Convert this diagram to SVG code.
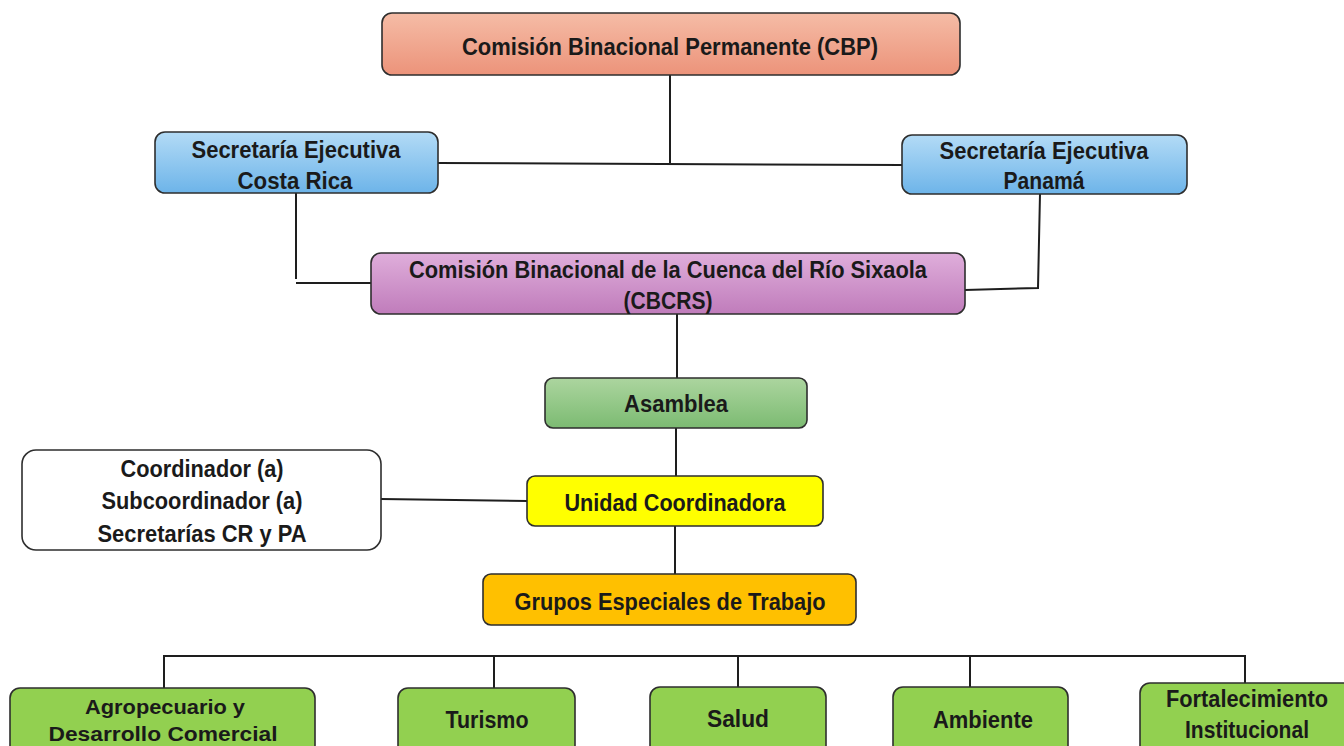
<svg xmlns="http://www.w3.org/2000/svg" width="1344" height="746" viewBox="0 0 1344 746">
<defs>
<linearGradient id="gRed" x1="0" y1="0" x2="0" y2="1"><stop offset="0" stop-color="#f5bca6"/><stop offset="1" stop-color="#ec937a"/></linearGradient>
<linearGradient id="gBlue" x1="0" y1="0" x2="0" y2="1"><stop offset="0" stop-color="#b3dbf6"/><stop offset="1" stop-color="#6db4e9"/></linearGradient>
<linearGradient id="gPurple" x1="0" y1="0" x2="0" y2="1"><stop offset="0" stop-color="#dfaedb"/><stop offset="1" stop-color="#c07cbb"/></linearGradient>
<linearGradient id="gGreen" x1="0" y1="0" x2="0" y2="1"><stop offset="0" stop-color="#acd59f"/><stop offset="1" stop-color="#7cbb72"/></linearGradient>
<style>
.box{stroke:#2e2e2e;stroke-width:1.6}
.t{font-family:"Liberation Sans",Arial,sans-serif;font-weight:bold;font-size:23px;fill:#1a1a1a;text-anchor:middle}
.c{fill:none;stroke:#1e1e1e;stroke-width:2}
</style>
</defs>
<g id="connectors">
<path class="c" d="M670 75V163"/>
<path class="c" d="M438 163L902 165"/>
<path class="c" d="M296 193V279"/>
<path class="c" d="M296 283H371"/>
<path class="c" d="M1040 194L1038 288L965 290"/>
<path class="c" d="M677 314V378"/>
<path class="c" d="M676 428V476"/>
<path class="c" d="M381 499L527 501"/>
<path class="c" d="M675 526V574"/>
<path class="c" d="M164 688V656H1245V683"/>
<path class="c" d="M494 656V688"/>
<path class="c" d="M738 656V687"/>
<path class="c" d="M970 656V687"/>
</g>
<g id="cbp"><rect class="box" x="382" y="13" width="578" height="62" rx="10" fill="url(#gRed)"/><text class="t" x="670" y="55" textLength="416" lengthAdjust="spacingAndGlyphs">Comisión Binacional Permanente (CBP)</text></g>
<g id="se-cr"><rect class="box" x="155" y="132" width="283" height="61" rx="10" fill="url(#gBlue)"/><text class="t" x="296" y="158" textLength="209" lengthAdjust="spacingAndGlyphs">Secretaría Ejecutiva</text><text class="t" x="295" y="189" textLength="115" lengthAdjust="spacingAndGlyphs">Costa Rica</text></g>
<g id="se-pa"><rect class="box" x="902" y="135" width="285" height="59" rx="10" fill="url(#gBlue)"/><text class="t" x="1044" y="159" textLength="209" lengthAdjust="spacingAndGlyphs">Secretaría Ejecutiva</text><text class="t" x="1044" y="189" textLength="81" lengthAdjust="spacingAndGlyphs">Panamá</text></g>
<g id="cbcrs"><rect class="box" x="371" y="253" width="594" height="61" rx="10" fill="url(#gPurple)"/><text class="t" x="668" y="278" textLength="518" lengthAdjust="spacingAndGlyphs">Comisión Binacional de la Cuenca del Río Sixaola</text><text class="t" x="668" y="309" textLength="89" lengthAdjust="spacingAndGlyphs">(CBCRS)</text></g>
<g id="asamblea"><rect class="box" x="545" y="378" width="262" height="50" rx="8" fill="url(#gGreen)"/><text class="t" x="676" y="412" textLength="104" lengthAdjust="spacingAndGlyphs">Asamblea</text></g>
<g id="unidad"><rect class="box" x="527" y="476" width="296" height="50" rx="8" fill="#ffff00"/><text class="t" x="675" y="511" textLength="221" lengthAdjust="spacingAndGlyphs">Unidad Coordinadora</text></g>
<g id="coord"><rect class="box" x="22" y="450" width="359" height="100" rx="14" fill="#ffffff"/><text class="t" x="202" y="477" textLength="163" lengthAdjust="spacingAndGlyphs">Coordinador (a)</text><text class="t" x="202" y="509" textLength="201" lengthAdjust="spacingAndGlyphs">Subcoordinador (a)</text><text class="t" x="202" y="542" textLength="209" lengthAdjust="spacingAndGlyphs">Secretarías CR y PA</text></g>
<g id="grupos"><rect class="box" x="483" y="574" width="373" height="51" rx="8" fill="#ffc000"/><text class="t" x="670" y="610" textLength="311" lengthAdjust="spacingAndGlyphs">Grupos Especiales de Trabajo</text></g>
<g id="agro"><rect class="box" x="10" y="688" width="305" height="70" rx="10" fill="#92d050"/><text class="t" x="165" y="714" textLength="160" lengthAdjust="spacingAndGlyphs" style="font-size:20px">Agropecuario y</text><text class="t" x="163" y="741" textLength="229" lengthAdjust="spacingAndGlyphs" style="font-size:20px">Desarrollo Comercial</text></g>
<g id="turismo"><rect class="box" x="398" y="688" width="177" height="70" rx="10" fill="#92d050"/><text class="t" x="487" y="728" textLength="83" lengthAdjust="spacingAndGlyphs">Turismo</text></g>
<g id="salud"><rect class="box" x="650" y="687" width="176" height="70" rx="10" fill="#92d050"/><text class="t" x="738" y="727" textLength="62" lengthAdjust="spacingAndGlyphs">Salud</text></g>
<g id="ambiente"><rect class="box" x="893" y="687" width="175" height="70" rx="10" fill="#92d050"/><text class="t" x="983" y="728" textLength="100" lengthAdjust="spacingAndGlyphs">Ambiente</text></g>
<g id="fortalecimiento"><rect class="box" x="1140" y="683" width="214" height="74" rx="10" fill="#92d050"/><text class="t" x="1247" y="707" textLength="162" lengthAdjust="spacingAndGlyphs">Fortalecimiento</text><text class="t" x="1247" y="738" textLength="124" lengthAdjust="spacingAndGlyphs">Institucional</text></g>
</svg>
